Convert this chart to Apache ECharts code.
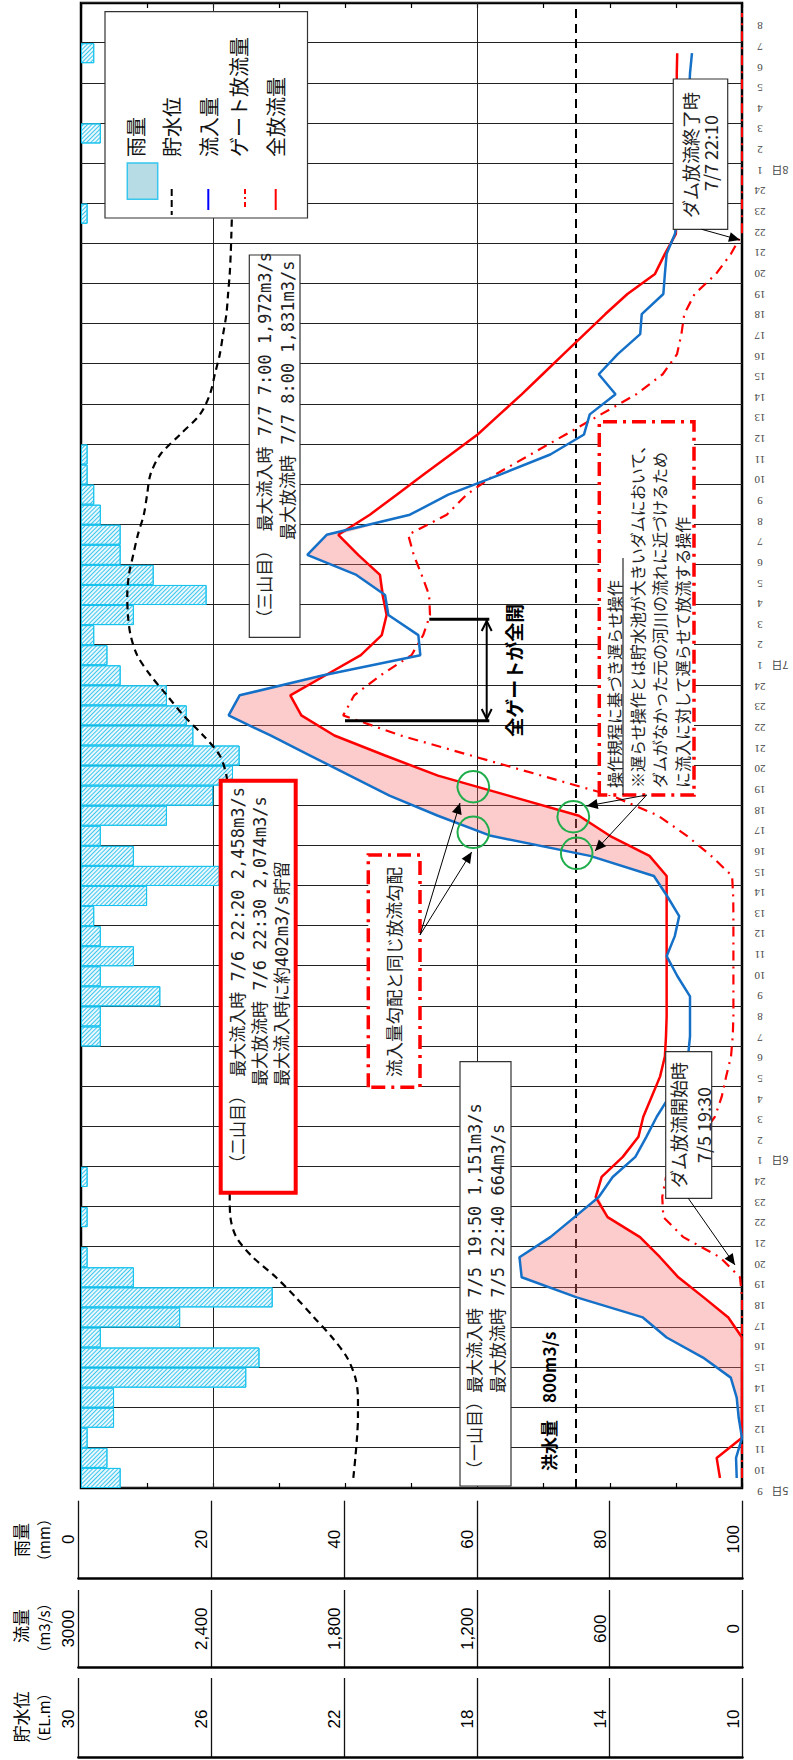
<!DOCTYPE html>
<html>
<head>
<meta charset="utf-8">
<script src="https://cdn.jsdelivr.net/npm/echarts@6/dist/echarts.min.js"></script>
<style>
html, body { margin: 0; padding: 0; background: #fff; overflow: hidden; }
#wrap { position: absolute; left: 0; top: 0; width: 793px; height: 1760px; overflow: hidden; }
/* the chart is drawn in landscape and turned a quarter turn, like the scanned sheet */
#chart { position: absolute; left: 0; top: 0; width: 1760px; height: 793px;
  transform-origin: 0 0; transform: translateY(1760px) rotate(-90deg); }
</style>
</head>
<body>
<div id="wrap"><div id="chart"></div></div>
<script>
// hourly data, 7/5 9:00 ... 7/8 10:00 (74 hours)
const rain = [6, 4, 1, 5, 5, 25, 27, 3, 15, 29,
  8, 1, 0, 1, 0, 1, 0, 0, 0, 0,
  0, 0, 3, 3, 12, 3, 8, 3, 2, 10,
  21, 8, 3, 13, 20, 23, 24, 17, 16, 13,
  6, 4, 2, 8, 19, 11, 6, 6, 3, 2,
  1, 1, 0, 0, 0, 0, 0, 0, 0, 0,
  0, 0, 0, 1, 0, 0, 0, 3, 0, 0,
  0, 2, 0, 0];
const level = [21.76, 21.70, 21.65, 21.62, 21.62, 21.70, 21.95, 22.40, 22.95, 23.50,
  24.10, 24.80, 25.30, 25.48, 25.50, 25.50, 25.50, 25.50, 25.50, 25.50,
  25.50, 25.50, 25.50, 25.50, 25.50, 25.50, 25.50, 25.50, 25.50, 25.50,
  25.50, 25.50, 25.50, 25.50, 25.55, 25.60, 25.80, 26.30, 26.90, 27.40,
  27.90, 28.30, 28.50, 28.58, 28.60, 28.55, 28.42, 28.28, 28.10, 28.00,
  27.90, 27.60, 27.00, 26.40, 26.10, 25.95, 25.80, 25.70, 25.60, 25.55,
  25.50, 25.47, 25.45, 25.43, 25.40, 25.40, 25.40, 25.40, 25.40, 25.40,
  25.40, 25.40, 25.40, 25.40];
const inflow = [24, 27, 0, 15, 24, 51, 177, 342, 450, 750,
  1000, 1010, 870, 760, 650, 587, 484, 434, 387, 330,
  280, 245, 236, 236, 236, 293, 342, 305, 285, 340,
  400, 690, 1140, 1380, 1600, 1780, 1960, 2140, 2330, 2280,
  1900, 1460, 1469, 1605, 1620, 1750, 1973, 1885, 1507, 1333,
  1098, 870, 717, 691, 574, 650, 564, 462, 455, 357,
  350, 342, 304, 290, 280, 270, 262, 255, 248, 240,
  236, 227, null, null];
const outflow = [100, 115, 0, 0, 0, 0, 0, 0, 62, 174,
  289, 372, 463, 610, 664, 637, 541, 470, 448, 410,
  372, 350, 345, 342, 342, 342, 342, 342, 342, 342,
  342, 420, 600, 740, 1060, 1380, 1620, 1850, 2000, 2050,
  1890, 1730, 1635, 1613, 1631, 1643, 1742, 1832, 1689, 1567,
  1445, 1322, 1200, 1100, 1000, 905, 810, 715, 620, 520,
  395, 350, 300, 298, 297, 296, 296, 296, 296, 296,
  296, 294, null, null];
const gate = [0, 0, 0, 0, 0, 0, 0, 0, 0, 0,
  9, 100, 266, 357, 362, 345, 270, 190, 123, 92,
  72, 50, 42, 39, 39, 39, 39, 39, 39, 40,
  45, 140, 250, 380, 590, 910, 1230, 1550, 1810, 1760,
  1640, 1500, 1447, 1416, 1420, 1454, 1490, 1515, 1340, 1250,
  1120, 960, 800, 640, 480, 360, 295, 275, 262, 215,
  118, 50, 0, 0, 0, 0, 0, 0, 0, 0,
  0, 0, 0, 0];
// hour tick labels 7/5 9 ... 7/8 8
const hourLabels = ['9', '10', '11', '12', '13', '14', '15', '16', '17', '18', '19', '20', '21', '22', '23', '24',
  '1', '2', '3', '4', '5', '6', '7', '8', '9', '10', '11', '12', '13', '14', '15', '16', '17', '18', '19', '20', '21', '22', '23', '24',
  '1', '2', '3', '4', '5', '6', '7', '8', '9', '10', '11', '12', '13', '14', '15', '16', '17', '18', '19', '20', '21', '22', '23', '24',
  '1', '2', '3', '4', '5', '6', '7', '8'];
const dayLabels = [['5日', 0], ['6日', 16], ['7日', 40], ['8日', 64]];
const flowTicks = [0, 600, 1200, 1800, 2400, 3000];
const floodFlow = 755;

const W = 1760;
const JP = '"Noto Sans CJK JP", sans-serif';
const NOTE = '"DejaVu Sans Mono", "Noto Sans CJK JP", monospace';

// helpers take positions on the upright sheet (px across, py down) and turn them into chart coords
function pLine(px1, py1, px2, py2, st) {
  return { type: 'line', z: 100, shape: { x1: W - py1, y1: px1, x2: W - py2, y2: px2 },
    style: Object.assign({ stroke: '#000', lineWidth: 1 }, st) };
}
function pRect(px1, py1, px2, py2, st) {
  return { type: 'rect', z: 90, shape: { x: W - py2, y: px1, width: py2 - py1, height: px2 - px1 },
    style: Object.assign({ fill: '#fff', stroke: '#333', lineWidth: 1.2 }, st) };
}
function pText(px, py, text, st) {
  return { type: 'text', z: 110, x: W - py, y: px,
    style: Object.assign({ text: text, fill: '#222', fontSize: 17, fontFamily: NOTE, align: 'left', verticalAlign: 'middle' }, st) };
}
function pHead(px1, py1, px2, py2, len, wid, filled) {
  const ax = W - py1, ay = px1, bx = W - py2, by = px2;
  const d = Math.hypot(bx - ax, by - ay), ux = (bx - ax) / d, uy = (by - ay) / d;
  const cx = bx - ux * len, cy = by - uy * len;
  const p1 = [cx - uy * wid, cy + ux * wid], p2 = [cx + uy * wid, cy - ux * wid];
  if (filled) return { type: 'polygon', z: 101, shape: { points: [[bx, by], p1, p2] }, style: { fill: '#000' } };
  return { type: 'polyline', z: 101, shape: { points: [p1, [bx, by], p2] }, style: { stroke: '#000', lineWidth: 2, fill: null } };
}
function pArrow(px1, py1, px2, py2, filled) {
  return [pLine(px1, py1, px2, py2, { lineWidth: 1 }), pHead(px1, py1, px2, py2, 11, 5, filled)];
}
function pCircle(px, py) {
  return { type: 'circle', z: 105, shape: { cx: W - py, cy: px, r: 15.7 }, style: { fill: null, stroke: '#1fae4b', lineWidth: 2 } };
}

const redDash = [14, 6, 3, 6];
const legendFont = { fontSize: 20, fill: '#111', fontFamily: JP };
const graphics = [].concat(
  // legend
  pRect(105, 11.7, 307.5, 218, { stroke: '#333' }),
  pRect(127.3, 163, 157.7, 199.3, { fill: '#b8dce6', stroke: '#36c6ee', lineWidth: 1.5, z: 95 }),
  pLine(171.7, 189, 171.7, 215, { lineDash: [7, 4], lineWidth: 2 }),
  pLine(208.3, 189, 208.3, 210, { stroke: '#0000ff', lineWidth: 2 }),
  pLine(245, 189, 245, 210, { stroke: '#ff0000', lineDash: [5, 3, 2, 3], lineWidth: 2 }),
  pLine(275.7, 189, 275.7, 210, { stroke: '#ff0000', lineWidth: 2 }),
  pText(135, 157, '雨量', legendFont),
  pText(171.7, 157, '貯水位', legendFont),
  pText(208.3, 157, '流入量', legendFont),
  pText(238, 157, 'ゲート放流量', legendFont),
  pText(275, 157, '全放流量', legendFont),
  // end of dam release
  pRect(673.3, 79, 727.7, 229.3),
  pText(690, 155, 'ダム放流終了時', { align: 'center', fontSize: 18, fontFamily: JP }),
  pText(710, 153, '7/7 22:10', { align: 'center', fontSize: 18, fontFamily: JP }),
  pArrow(701.7, 229.3, 740, 240, true),
  // start of dam release
  pRect(665.7, 1051.7, 711.7, 1198.3),
  pText(678, 1125, 'ダム放流開始時', { align: 'center', fontSize: 18, fontFamily: JP }),
  pText(703, 1125, '7/5 19:30', { align: 'center', fontSize: 18, fontFamily: JP }),
  pArrow(688.3, 1198.3, 735, 1265, true),
  // first peak
  pRect(460, 1061.7, 511, 1486),
  pText(475, 1478, '（一山目）最大流入時 7/5 19:50 1,151m3/s'),
  pText(498, 1393, '最大放流時 7/5 22:40 664m3/s'),
  // second peak
  pRect(220.7, 780.7, 295.7, 1192.7, { stroke: '#ff0000', lineWidth: 4 }),
  pText(238.3, 1172, '（二山目） 最大流入時 7/6 22:20 2,458m3/s'),
  pText(260, 1086, '最大放流時 7/6 22:30 2,074m3/s'),
  pText(282, 1086, '最大流入時に約402m3/s貯留'),
  // third peak
  pRect(249.3, 255, 300, 637.3),
  pText(265, 626.7, '（三山目） 最大流入時 7/7 7:00 1,972m3/s'),
  pText(288.3, 540, '最大放流時 7/7 8:00 1,831m3/s'),
  // same gradient note
  pRect(368.3, 855, 420, 1087.3, { stroke: '#ff0000', lineWidth: 3.5, lineDash: redDash }),
  pText(395, 1077, '流入量勾配と同じ放流勾配', { fontSize: 17.5 }),
  pArrow(420, 935, 460, 803, true),
  pArrow(420, 935, 471.7, 852, true),
  // delayed operation note
  pRect(599.3, 421.7, 694, 795, { stroke: '#ff0000', lineWidth: 3.5, lineDash: redDash }),
  pText(615, 788, '操作規程に基づき遅らせ操作', { fontSize: 16 }),
  pLine(623, 795, 623, 558, { lineWidth: 1 }),
  pText(638.3, 788, '※遅らせ操作とは貯水池が大きいダムにおいて、', { fontSize: 16 }),
  pText(660, 788, 'ダムがなかった元の河川の流れに近づけるため', { fontSize: 16 }),
  pText(683.3, 788, 'に流入に対して遅らせて放流する操作', { fontSize: 16 }),
  pArrow(646.7, 795, 586.7, 806, true),
  pArrow(646.7, 795, 595, 851, true),
  // all gates open
  pLine(429.3, 619.3, 489.3, 619.3, { lineWidth: 3 }),
  pLine(345, 720.7, 489.3, 720.7, { lineWidth: 3 }),
  pLine(486.7, 620, 486.7, 720, { lineWidth: 2 }),
  pHead(486.7, 700, 486.7, 621, 10, 5, false),
  pHead(486.7, 640, 486.7, 719, 10, 5, false),
  pText(513.3, 736.7, '全ゲートが全開', { fontSize: 19, fontWeight: 'bold', fill: '#000', fontFamily: JP }),
  pCircle(473.3, 786.7), pCircle(473.3, 832.3), pCircle(573.3, 816.7), pCircle(576.7, 853.3),
  pText(548, 1471, '洪水量　800m3/s', { fontSize: 17, fontWeight: 'bold', fill: '#000', fontFamily: JP }),
  // axis panel names
  pText(20, 1540, '雨量', { align: 'center', fontSize: 17, fill: '#000', fontFamily: JP }),
  pText(43, 1540, '（mm）', { align: 'center', fontSize: 15, fill: '#000', fontFamily: JP }),
  pText(20, 1626, '流量', { align: 'center', fontSize: 17, fill: '#000', fontFamily: JP }),
  pText(43, 1628, '（m3/s）', { align: 'center', fontSize: 15, fill: '#000', fontFamily: JP }),
  pText(20, 1717, '貯水位', { align: 'center', fontSize: 17, fill: '#000', fontFamily: JP }),
  pText(43, 1718, '（EL.m）', { align: 'center', fontSize: 15, fill: '#000', fontFamily: JP })
);
// day names beside the hour labels
const labelLeft = 268.3, labelStep = 20.64;
dayLabels.forEach(function (d) {
  graphics.push({ type: 'text', z: 110, x: labelLeft + labelStep * d[1], y: 780, rotation: Math.PI / 2,
    style: { text: d[0], fill: '#444', fontSize: 11, fontFamily: JP, align: 'center', verticalAlign: 'middle' } });
});

const cats = inflow.map(function (v, i) { return String(i); });
const base = inflow.map(function (v, i) { return v == null ? null : Math.min(v, outflow[i]); });
const stored = inflow.map(function (v, i) { return v == null ? null : Math.max(v - outflow[i], 0); });
const rainBars = rain.map(function (v) { return v > 0 ? v : null; });

function panelAxis(grid, min, max, interval, inverse, fmt) {
  return {
    gridIndex: grid, type: 'value', min: min, max: max, interval: interval, inverse: inverse,
    axisLine: { show: true, lineStyle: { color: '#000', width: 2.5 } },
    axisTick: { show: false },
    splitLine: { show: true, lineStyle: { color: '#111', width: 1.3 } },
    axisLabel: { inside: true, align: 'center', verticalAlign: 'bottom', margin: 39, padding: [0, 0, 1, 0],
      fontSize: 17, fontFamily: '"Liberation Sans", Arial', color: '#000', showMinLabel: true, showMaxLabel: true, formatter: fmt }
  };
}

const chart = echarts.init(document.getElementById('chart'), null, { renderer: 'svg', width: 1760, height: 793 });
chart.setOption({
  animation: false,
  backgroundColor: '#fff',
  grid: [
    { left: 272, right: 3, top: 81, height: 661, show: true, borderColor: '#000', borderWidth: 2.5, backgroundColor: 'transparent' },
    { left: labelLeft, width: labelStep * (hourLabels.length - 1), top: 81, height: 661 },
    { left: 181.7, width: 77.6, top: 78.4, height: 664.1 },
    { left: 92.3, width: 77.7, top: 78.4, height: 664.1 },
    { left: 2, width: 80, top: 78.4, height: 664.1 }
  ],
  xAxis: [
    { gridIndex: 0, type: 'category', data: cats, boundaryGap: true,
      axisLine: { show: false }, axisTick: { show: false }, axisLabel: { show: false }, splitLine: { show: false } },
    { gridIndex: 1, type: 'category', data: hourLabels, boundaryGap: false,
      axisLine: { show: false }, axisTick: { show: false }, splitLine: { show: false },
      axisLabel: { interval: 0, rotate: 90, align: 'center', verticalAlign: 'middle', margin: 18,
        fontSize: 11, fontFamily: '"Liberation Serif", serif', color: '#444' } },
    { gridIndex: 2, type: 'value', show: false },
    { gridIndex: 3, type: 'value', show: false },
    { gridIndex: 4, type: 'value', show: false },
    // two-hour grid lines across the plot
    { gridIndex: 0, type: 'value', min: 0, max: inflow.length, interval: 2,
      axisLine: { show: false }, axisTick: { show: false }, axisLabel: { show: false },
      splitLine: { show: true, lineStyle: { color: '#222', width: 1 } } }
  ],
  yAxis: [
    { gridIndex: 0, type: 'value', min: 0, max: 3000, interval: 300, position: 'left',
      axisLine: { show: false }, splitLine: { show: false }, axisLabel: { show: false },
      axisTick: { show: true, inside: true, length: 5, lineStyle: { color: '#000', width: 1.2 } } },
    { gridIndex: 0, type: 'value', min: 0, max: 3000, interval: 300, position: 'right',
      axisLine: { show: false }, splitLine: { show: false }, axisLabel: { show: false },
      axisTick: { show: true, inside: true, length: 5, lineStyle: { color: '#000', width: 1.2 } } },
    { gridIndex: 0, type: 'value', min: 10, max: 30, show: false },
    { gridIndex: 0, type: 'value', min: 0, max: 100, inverse: true, show: false },
    { gridIndex: 1, type: 'value', show: false },
    panelAxis(2, 0, 100, 20, true, function (v) { return String(v); }),
    panelAxis(3, 0, 3000, 600, false, function (v) { return v === 3000 ? '3000' : v.toLocaleString('en-US'); }),
    panelAxis(4, 0, 20, 4, false, function (v) { return String(v + 10); })
  ],
  series: [
    { name: '雨量', type: 'bar', xAxisIndex: 0, yAxisIndex: 3, data: rainBars, barWidth: '100%', barCategoryGap: 0, z: 2,
      itemStyle: { color: '#eaf8fd', borderColor: '#19c3ee', borderWidth: 1,
        decal: { symbol: 'rect', symbolSize: 1, dashArrayX: [1, 0], dashArrayY: [1, 2], rotation: Math.PI / 4, color: '#3cc6ee' } } },
    { name: 'base', type: 'line', xAxisIndex: 0, yAxisIndex: 0, data: base, stack: 'store', symbol: 'none',
      lineStyle: { opacity: 0 }, z: 3, silent: true },
    { name: 'store', type: 'line', xAxisIndex: 0, yAxisIndex: 0, data: stored, stack: 'store', symbol: 'none',
      lineStyle: { opacity: 0 }, areaStyle: { color: 'rgba(245,105,105,0.5)' }, z: 3, silent: true },
    { name: '貯水位', type: 'line', xAxisIndex: 0, yAxisIndex: 2, data: level, symbol: 'none', smooth: 0.3, z: 4,
      lineStyle: { color: '#000', width: 2.2, type: [7, 5] } },
    { name: 'ゲート放流量', type: 'line', xAxisIndex: 0, yAxisIndex: 0, data: gate, symbol: 'none', z: 5,
      lineStyle: { color: '#ff0000', width: 2.2, type: [10, 6, 2, 6] } },
    { name: '全放流量', type: 'line', xAxisIndex: 0, yAxisIndex: 0, data: outflow, symbol: 'none', z: 6,
      lineStyle: { color: '#ff0000', width: 2.5 } },
    { name: '流入量', type: 'line', xAxisIndex: 0, yAxisIndex: 0, data: inflow, symbol: 'none', z: 7,
      lineStyle: { color: '#1570c8', width: 2.5 },
      markLine: { silent: true, symbol: 'none', label: { show: false }, z: 1,
        data: [
          { yAxis: flowTicks[4], lineStyle: { color: '#222', width: 1, type: 'solid' } },
          { yAxis: flowTicks[2], lineStyle: { color: '#222', width: 1, type: 'solid' } },
          { yAxis: floodFlow, lineStyle: { color: '#000', width: 2, type: [9, 6] } }
        ] } }
  ],
  graphic: { elements: graphics }
});
</script>
</body>
</html>
